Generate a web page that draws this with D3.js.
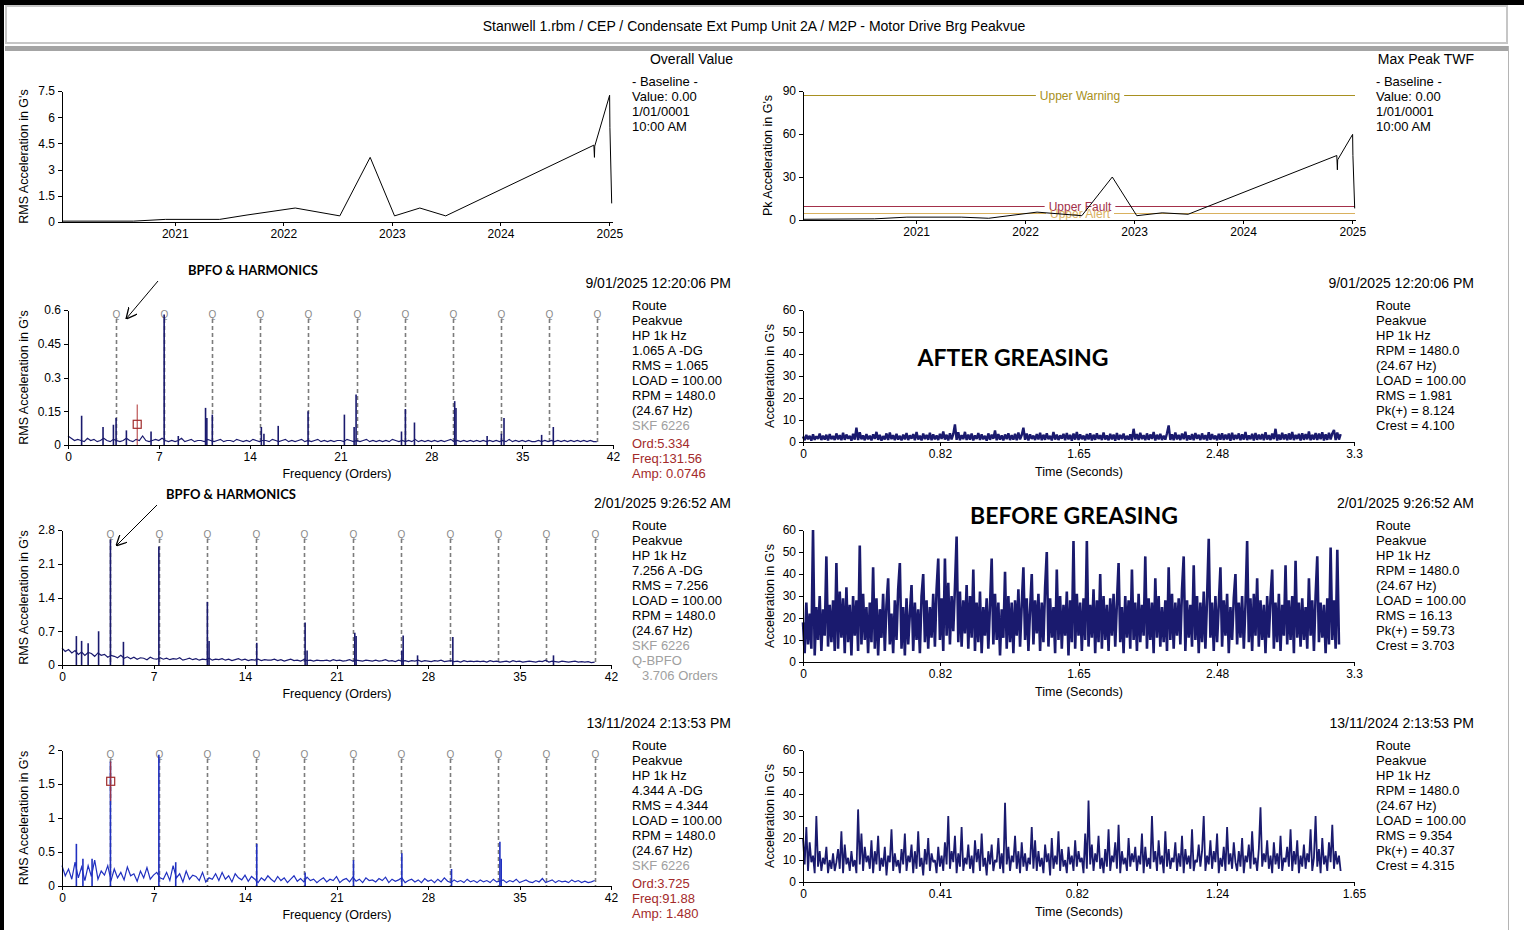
<!DOCTYPE html>
<html>
<head>
<meta charset="utf-8">
<script src="https://cdn.jsdelivr.net/npm/d3@7"></script>
<style>
body { margin: 0; background: #fff; }
svg { display: block; font-family: "Liberation Sans", Arial, sans-serif; }
.axis path, .axis line { stroke: #000; shape-rendering: crispEdges; }
.axis text { font-size: 12px; fill: #000; font-family: "Liberation Sans", Arial, sans-serif; }
</style>
</head>
<body>
<svg id="chart" width="1524" height="930"></svg>
<script>
// ---- trend data (overall value / max peak) ----
var trendDates = ["2019-12-20", "2020-08-15", "2020-12-01", "2021-06-01", "2021-09-01", "2022-02-10",
  "2022-07-10", "2022-10-20", "2023-01-10", "2023-04-05", "2023-07-01", "2024-11-10", "2024-11-12",
  "2024-11-13", "2025-01-02", "2025-01-03", "2025-01-09"];
var overallRms = [0.05, 0.05, 0.15, 0.15, 0.4, 0.8, 0.35, 3.7, 0.35, 0.8, 0.35, 4.4, 3.7, 4.344, 7.256, 5.4, 1.065];
var maxPeakTwf = [0.5, 0.8, 2, 2, 1.2, 5.5, 3, 30, 3, 5, 4, 45, 35, 42, 59.73, 45, 8.1];
var yearTicks = ["2021", "2022", "2023", "2024", "2025"];
var alarmNames = ["Upper Warning", "Upper Fault", "Upper Alert"];
var alarmLevels = [87, 10, 5];

// ---- spectra ----
var bpfo = 3.706;
var harmonicNumbers = [1, 2, 3, 4, 5, 6, 7, 8, 9, 10, 11];
var orderTicks = [0, 7, 14, 21, 28, 35, 42];
var noiseStep = 0.25; // orders between noise floor readings

var specAfterNoise = [
  .04,.03,.02,.025,.02,.015,.03,.02,.025,.015,.02,.03,.02,.015,.025,.02,
  .015,.02,.03,.02,.015,.025,.02,.04,.02,.015,.02,.025,.02,.03,.02,.015,
  .02,.015,.02,.03,.015,.02,.025,.015,.02,.02,.015,.025,.02,.015,.02,.025,
  .015,.02,.02,.015,.025,.02,.015,.02,.015,.025,.02,.015,.02,.02,.015,.025,
  .02,.015,.02,.025,.015,.02,.015,.02,.025,.015,.02,.015,.02,.025,.015,.02,
  .015,.02,.015,.02,.02,.015,.025,.02,.015,.02,.015,.02,.025,.015,.02,.015,
  .02,.015,.02,.015,.025,.02,.015,.02,.015,.02,.015,.025,.015,.02,.015,.02,
  .015,.02,.015,.02,.015,.02,.025,.015,.02,.015,.02,.015,.02,.015,.02,.015,
  .02,.015,.02,.015,.02,.015,.02,.015,.025,.015,.02,.015,.02,.015,.02,.015,
  .015,.02,.015,.02,.015,.02,.015,.02,.015,.02,.015,.02,.015,.02,.015,.02,
  .015,.02,.015,.015];
var specAfterPeakOrd = [1.05, 2.7, 3.5, 3.706, 4.5, 6.4, 7.41, 8.5, 10.6, 10.7, 11.12, 14.9, 15.1, 16.2,
  18.5, 21.3, 22.05, 22.2, 25.7, 26.0, 26.7, 29.8, 29.9, 32.3, 33.4, 33.6, 36.5, 37.4];
var specAfterPeakAmp = [.13, .08, .09, .12, .065, .06, .58, .04, .165, .12, .135, .08, .05, .085,
  .15, .135, .08, .225, .06, .16, .10, .195, .165, .04, .05, .12, .045, .08];

var specBeforeNoise = [
  .35,.28,.32,.25,.3,.22,.27,.2,.26,.24,.18,.25,.2,.22,.16,.2,
  .18,.15,.2,.14,.17,.13,.16,.12,.15,.14,.11,.16,.13,.12,.15,.12,
  .14,.11,.13,.12,.15,.1,.12,.14,.11,.13,.1,.12,.11,.14,.1,.12,
  .11,.13,.1,.12,.09,.11,.13,.1,.12,.09,.11,.1,.12,.09,.11,.1,
  .1,.12,.09,.11,.08,.1,.12,.09,.1,.08,.11,.09,.1,.08,.1,.09,
  .09,.1,.08,.11,.09,.1,.08,.09,.11,.08,.1,.09,.08,.1,.09,.08,
  .1,.08,.09,.11,.08,.09,.07,.1,.08,.09,.07,.09,.08,.1,.07,.09,
  .08,.07,.09,.08,.1,.07,.08,.09,.07,.08,.06,.09,.07,.08,.07,.08,
  .07,.08,.06,.09,.07,.08,.06,.07,.08,.06,.09,.07,.08,.06,.07,.08,
  .07,.06,.08,.07,.1,.06,.08,.07,.06,.08,.07,.06,.07,.08,.06,.07,
  .06,.07,.05,.06];
var specBeforePeakOrd = [1.1, 1.5, 2.0, 2.8, 3.706, 4.7, 7.41, 11.12, 11.25, 14.9, 18.6, 18.75, 22.4,
  22.5, 26.0, 26.1, 27.2, 29.9, 37.6];
var specBeforePeakAmp = [.6, .5, .45, .7, 2.6, .48, 2.46, 1.31, .5, .46, .88, .3, .67,
  .6, .3, .61, .2, .58, .2];

var specNovNoise = [
  .3,.15,.25,.1,.35,.12,.28,.08,.3,.14,.38,.1,.22,.16,.3,.08,
  .25,.12,.2,.09,.28,.15,.18,.07,.22,.12,.27,.1,.16,.2,.12,.1,
  .2,.08,.3,.12,.18,.06,.22,.1,.16,.14,.08,.2,.06,.12,.1,.18,
  .08,.2,.1,.15,.06,.18,.12,.09,.16,.07,.14,.1,.05,.12,.08,.15,
  .1,.06,.14,.08,.12,.05,.1,.15,.07,.11,.06,.13,.08,.1,.05,.09,
  .12,.06,.1,.08,.14,.05,.09,.11,.06,.13,.07,.1,.05,.12,.08,.09,
  .06,.11,.08,.13,.05,.1,.07,.09,.12,.05,.08,.1,.06,.09,.05,.11,
  .07,.09,.05,.1,.06,.12,.07,.05,.09,.06,.08,.05,.1,.06,.08,.05,
  .09,.06,.08,.05,.1,.06,.07,.09,.05,.08,.06,.1,.05,.07,.09,.06,
  .05,.08,.06,.11,.05,.07,.09,.05,.08,.06,.07,.05,.09,.06,.08,.05,
  .07,.05,.06,.08];
var specNovPeakOrd = [1.1, 1.6, 2.3, 3.706, 7.41, 8.7, 14.9, 18.6, 22.3, 26.0, 29.8, 33.5, 33.6];
var specNovPeakAmp = [.62, .4, .4, 1.83, 1.93, .35, .62, .2, .38, .48, .25, .65, .4];

// ---- time waveforms (G's) ----
var afterDt = 0.01, beforeDt = 0.01, novDt = 0.005; // seconds per sample
var waveAfter = [
  2.5,0.8,3.2,1.2,2.8,0.6,3.5,1.0,2.6,1.4,3.8,0.9,2.9,1.1,3.3,0.7,3.6,1.3,2.7,0.9,
  3.9,1.2,3.1,0.8,4.2,1.0,3.4,1.5,2.8,0.6,3.7,1.1,6.5,0.9,4.4,1.3,3.0,0.8,3.6,1.2,
  2.9,0.7,3.5,1.4,4.6,1.0,3.2,0.6,2.7,1.2,3.9,0.9,4.3,1.3,3.1,0.8,3.7,1.1,2.8,0.7,
  3.4,1.2,4.1,0.9,3.0,1.5,3.6,0.8,4.5,1.1,2.9,0.7,3.8,1.3,3.2,1.0,4.2,0.8,3.5,1.2,
  3.0,0.9,3.7,1.4,4.8,1.1,3.3,0.7,4.0,1.2,3.6,8.0,1.0,4.4,0.8,3.1,1.3,4.6,0.9,3.4,
  1.1,3.8,0.7,3.0,1.4,4.1,0.9,3.5,1.2,2.8,0.6,3.9,1.0,3.3,1.5,5.2,0.8,3.6,1.1,3.0,
  0.7,3.4,1.3,4.0,0.9,3.1,1.1,3.7,0.8,4.3,1.2,3.2,6.5,1.0,3.8,0.7,3.5,1.4,2.9,0.9,
  3.6,1.2,4.2,0.8,3.3,1.0,3.9,1.3,2.8,0.7,4.5,1.1,3.4,0.9,3.0,1.5,3.7,0.8,4.1,1.2,
  3.2,0.6,3.8,1.1,4.6,0.9,3.5,1.3,2.9,0.8,3.6,1.2,4.0,0.7,3.3,1.0,3.9,1.4,3.1,0.9,
  4.3,1.1,3.0,0.8,3.7,1.2,3.4,0.6,4.1,1.0,3.2,1.3,3.8,0.9,2.8,1.1,3.5,0.7,6.0,1.2,
  3.6,0.9,4.2,1.3,3.1,0.8,3.9,1.0,3.4,1.4,4.5,0.7,3.3,1.2,3.7,0.9,2.9,1.1,4.0,7.5,
  1.0,3.5,0.8,4.3,1.2,3.2,0.9,3.8,1.3,4.7,0.7,3.0,1.1,3.6,0.8,4.1,1.4,3.3,0.9,3.9,
  1.2,3.1,0.7,4.4,1.0,3.6,1.3,2.9,0.8,3.7,1.1,4.0,0.9,3.4,1.2,3.8,0.6,4.2,1.0,3.2,
  1.4,3.9,0.8,3.5,1.1,4.6,0.9,3.0,1.3,3.7,0.7,4.1,1.0,3.3,1.2,3.6,0.8,4.4,1.1,3.1,
  0.9,3.8,1.3,6.0,0.7,3.4,1.0,4.2,1.2,3.5,0.8,3.9,1.1,4.5,0.9,3.2,1.4,3.7,0.7,4.0,
  1.0,3.6,1.2,4.8,0.8,3.3,1.1,4.1,0.9,3.8,1.3,4.4,0.7,3.5,1.0,4.2,1.2,3.9,5.5,0.9,
  4.3,1.1,3.6];
var waveBefore = [
  18,4,27,8,22,6,60,3,25,10,30,5,24,12,48,7,26,9,28,5,
  45,6,32,11,29,4,34,9,26,3,30,12,28,5,53,8,31,10,25,4,
  27,9,43,6,29,3,24,11,31,5,26,38,8,22,4,28,10,33,45,6,
  25,3,29,8,22,35,5,27,10,24,4,30,40,9,28,6,25,11,31,7,
  33,47,10,29,5,47,12,36,8,30,14,34,57,9,32,7,28,13,35,6,
  30,11,42,5,27,9,32,4,25,12,29,6,26,47,8,31,10,27,3,24,
  11,41,6,30,9,27,4,28,12,33,7,26,43,10,29,5,24,40,8,28,
  13,31,5,27,9,34,50,7,29,11,25,4,42,10,30,6,26,12,32,3,
  28,9,55,6,31,12,27,5,29,10,55,7,26,11,33,4,28,9,40,6,
  30,10,26,5,29,12,31,7,27,45,9,25,4,30,11,28,6,42,10,27,
  5,31,9,26,12,48,6,29,10,27,4,38,11,30,7,25,9,28,5,43,
  10,31,6,27,12,29,8,33,48,5,28,11,26,7,44,10,30,4,27,9,
  32,6,29,56,11,27,5,30,9,26,43,7,28,12,31,4,25,10,29,40,
  8,27,11,30,6,26,55,9,29,5,31,12,38,7,28,10,26,4,30,11,
  29,42,6,27,9,31,5,26,12,44,8,28,10,30,4,46,11,27,7,29,
  10,25,6,38,12,28,5,30,48,9,27,11,26,4,29,8,52,10,28,6,
  51,8];
var waveNov = [
  20,8,25,5,18,9,12,4,30,7,14,5,11,8,16,4,10,6,13,5,
  9,15,6,23,4,17,8,11,5,14,7,10,4,33,8,22,5,16,9,12,
  6,19,4,14,8,21,5,11,7,16,3,12,9,24,5,13,7,10,4,15,
  8,22,5,12,9,17,4,14,6,23,7,11,3,15,8,20,5,13,9,10,
  4,16,7,12,5,18,8,30,6,14,9,21,4,13,7,25,5,11,8,17,
  6,12,4,19,9,15,5,22,7,11,3,14,8,17,5,10,9,20,6,13,
  4,36,8,16,5,12,9,21,6,14,4,18,7,13,5,11,8,25,6,19,
  5,14,7,11,4,17,9,13,3,20,6,12,8,23,5,15,7,10,4,16,
  8,12,5,19,7,14,9,11,4,22,6,37,8,17,5,13,9,21,6,11,
  4,15,7,24,5,12,9,18,6,26,4,14,8,11,5,20,7,13,9,16,
  5,12,8,22,4,16,7,11,6,30,9,14,5,19,8,12,4,23,7,15,
  6,11,9,18,5,13,7,21,4,15,8,12,6,24,5,10,9,17,7,14,
  30,5,12,8,19,6,14,9,22,4,11,7,16,5,25,8,13,6,18,9,
  5,14,7,20,4,12,9,17,6,23,8,11,5,15,34,7,13,9,19,6,
  12,4,18,8,13,6,21,5,11,9,16,7,24,5,14,8,19,4,12,7,
  17,6,13,9,24,5,11,30,7,15,4,20,8,12,5,18,9,26,6,14,
  8,12,5];

var svg = d3.select("#chart");
var parseDate = d3.timeParse("%Y-%m-%d");
var navy = "#1a1a6e";

// frame
svg.append("rect").attr("x", 0).attr("y", 0).attr("width", 1524).attr("height", 5).attr("fill", "#000");
svg.append("rect").attr("x", 0).attr("y", 0).attr("width", 4).attr("height", 930).attr("fill", "#000");
svg.append("rect").attr("x", 6).attr("y", 6).attr("width", 1501).attr("height", 37)
  .attr("fill", "#fff").attr("stroke", "#c6c6c6").attr("stroke-width", 2);
svg.append("rect").attr("x", 5).attr("y", 46).attr("width", 1504).attr("height", 5).attr("fill", "#a4a4a4");
svg.append("line").attr("x1", 1508.5).attr("x2", 1508.5).attr("y1", 46).attr("y2", 930)
  .attr("stroke", "#b4b4b4").attr("stroke-width", 1);
svg.append("text").attr("x", 754).attr("y", 26).attr("dy", "0.35em").attr("text-anchor", "middle")
  .style("font-size", "14px").text("Stanwell 1.rbm / CEP / Condensate Ext Pump Unit 2A / M2P - Motor Drive Brg Peakvue");

// arrow marker
svg.append("defs").append("marker").attr("id", "arr").attr("viewBox", "0 0 10 10")
  .attr("refX", 10).attr("refY", 5).attr("markerWidth", 11).attr("markerHeight", 11)
  .attr("markerUnits", "userSpaceOnUse").attr("orient", "auto")
  .append("path").attr("d", "M0,0 L10,5 L0,10").attr("fill", "none").attr("stroke", "#000").attr("stroke-width", 1.2);

function txt(x, y, s, opts) {
  opts = opts || {};
  return svg.append("text").attr("x", x).attr("y", y).attr("dy", "0.35em")
    .attr("text-anchor", opts.anchor || "start")
    .style("font-size", (opts.size || 13) + "px")
    .attr("fill", opts.color || "#000").text(s);
}

function yLabel(x, yMid, s) {
  svg.append("text").attr("transform", "translate(" + x + "," + yMid + ") rotate(-90)")
    .attr("text-anchor", "middle").attr("dy", "0.35em").style("font-size", "12.5px").text(s);
}

function info(x, y0, lines) {
  lines.forEach(function (l, i) {
    txt(x + (l.dx || 0), y0 + i * 15 + (l.shift || 0), l.t, { color: l.c });
  });
}

// ---- trend charts ----
var trendDomain = [parseDate("2019-12-19"), parseDate("2025-01-10")];

function trend(p) {
  var x = d3.scaleTime().domain(trendDomain).range([p.x0, p.x1]);
  var y = d3.scaleLinear().domain([0, p.yMax]).range([p.yBottom, p.yTop]);

  if (p.alarms) {
    var alarmColor = { "Upper Warning": "#a89020", "Upper Fault": "#a3304a", "Upper Alert": "#d9b15e" };
    var labelX = 1080;
    alarmNames.forEach(function (name, i) {
      var yy = Math.round(y(alarmLevels[i])) + 0.5;
      var t = svg.append("text").attr("x", labelX).attr("y", yy).attr("dy", "0.35em")
        .attr("text-anchor", "middle").style("font-size", "12px").attr("fill", alarmColor[name]).text(name);
      var w = t.node().getComputedTextLength();
      svg.append("line").attr("x1", p.x0).attr("x2", labelX - w / 2 - 4).attr("y1", yy).attr("y2", yy)
        .attr("stroke", alarmColor[name]).attr("stroke-width", 1);
      svg.append("line").attr("x1", labelX + w / 2 + 4).attr("x2", p.x1).attr("y1", yy).attr("y2", yy)
        .attr("stroke", alarmColor[name]).attr("stroke-width", 1);
    });
  }

  svg.append("g").attr("class", "axis").attr("transform", "translate(0," + p.yBottom + ")")
    .call(d3.axisBottom(x).tickValues(yearTicks.map(function (s) { return parseDate(s + "-01-01"); }))
      .tickFormat(d3.timeFormat("%Y")).tickSize(4).tickSizeOuter(0).tickPadding(3));
  svg.append("g").attr("class", "axis").attr("transform", "translate(" + p.x0 + ",0)")
    .call(d3.axisLeft(y).tickValues(p.yTicks).tickFormat(d3.format("~g")).tickSize(4).tickSizeOuter(0).tickPadding(3));

  var line = d3.line()
    .x(function (d, i) { return x(parseDate(trendDates[i])); })
    .y(function (d) { return y(d); });
  svg.append("path").datum(p.values).attr("d", line).attr("fill", "none")
    .attr("stroke", "#000").attr("stroke-width", 1);

  yLabel(p.labelX, (p.yTop + p.yBottom) / 2, p.yTitle);
  txt(p.titleX, 59, p.title, { anchor: "end", size: 14 });
  info(p.infoX, 81, [{ t: "- Baseline -" }, { t: "Value: 0.00" }, { t: "1/01/0001" }, { t: "10:00 AM" }]);
}

trend({ x0: 62, x1: 612, yTop: 91, yBottom: 222, yMax: 7.5, yTicks: [0, 1.5, 3, 4.5, 6, 7.5],
  values: overallRms, labelX: 24, yTitle: "RMS Acceleration in G's", title: "Overall Value", titleX: 733, infoX: 632 });
trend({ x0: 803, x1: 1355, yTop: 91, yBottom: 220, yMax: 90, yTicks: [0, 30, 60, 90],
  values: maxPeakTwf, labelX: 768, yTitle: "Pk Acceleration in G's", title: "Max Peak TWF", titleX: 1474, infoX: 1376, alarms: true });

// ---- spectra ----
function spectrum(p) {
  var x = d3.scaleLinear().domain([0, 42]).range([p.x0, p.x1]);
  var y = d3.scaleLinear().domain([0, p.yMax]).range([p.yBottom, p.yTop]);

  harmonicNumbers.forEach(function (k) {
    var xx = Math.round(x(k * bpfo)) + 0.5;
    svg.append("line").attr("x1", xx).attr("x2", xx).attr("y1", p.yTop + 9).attr("y2", p.yBottom)
      .attr("stroke", "#7c7c7c").attr("stroke-width", 1.6).attr("stroke-dasharray", "4,3");
    svg.append("text").attr("x", xx).attr("y", p.yTop + 4).attr("dy", "0.35em").attr("text-anchor", "middle")
      .style("font-size", "10px").attr("fill", "#8a8a8a").text("Q");
  });

  var line = d3.line().x(function (d, i) { return x(i * noiseStep); }).y(function (d) { return y(d); });
  svg.append("path").datum(p.noise).attr("d", line).attr("fill", "none")
    .attr("stroke", p.color).attr("stroke-width", 1.2);
  svg.append("g").selectAll("line").data(p.peakOrd).enter().append("line")
    .attr("x1", function (d) { return x(d); }).attr("x2", function (d) { return x(d); })
    .attr("y1", y(0)).attr("y2", function (d, i) { return y(p.peakAmp[i]); })
    .attr("stroke", p.color).attr("stroke-width", 1.6);

  if (p.cursor) {
    var c = p.cursor, cx = x(c.ord);
    svg.append("line").attr("x1", cx).attr("x2", cx).attr("y1", y(c.top)).attr("y2", y(c.bottom))
      .attr("stroke", "#b03434").attr("stroke-width", 1);
    svg.append("rect").attr("x", cx - 4).attr("y", y(c.mark) - 4).attr("width", 8).attr("height", 8)
      .attr("fill", "none").attr("stroke", "#a02c2c").attr("stroke-width", 1.2);
  }

  svg.append("g").attr("class", "axis").attr("transform", "translate(0," + p.yBottom + ")")
    .call(d3.axisBottom(x).tickValues(orderTicks).tickSize(4).tickSizeOuter(0).tickPadding(3));
  svg.append("g").attr("class", "axis").attr("transform", "translate(" + p.x0 + ",0)")
    .call(d3.axisLeft(y).tickValues(p.yTicks).tickFormat(d3.format("~g")).tickSize(4).tickSizeOuter(0).tickPadding(3));

  yLabel(24, (p.yTop + p.yBottom) / 2, "RMS Acceleration in G's");
  txt(337, p.yBottom + 29, "Frequency (Orders)", { anchor: "middle", size: 12.5 });
  txt(731, p.yTop - 27, p.date, { anchor: "end", size: 14 });
  info(632, p.yTop - 5, p.info);
}

var red = "#a32a2a", gray = "#a0a0a0";
spectrum({ x0: 68, x1: 613, yTop: 310, yBottom: 445, yMax: 0.6, yTicks: [0, .15, .3, .45, .6], color: navy,
  noise: specAfterNoise, peakOrd: specAfterPeakOrd, peakAmp: specAfterPeakAmp,
  cursor: { ord: 5.334, top: 0.18, bottom: 0, mark: 0.092 },
  date: "9/01/2025 12:20:06 PM",
  info: [{ t: "Route" }, { t: "Peakvue" }, { t: "HP 1k Hz" }, { t: "1.065 A -DG" }, { t: "RMS = 1.065" },
    { t: "LOAD = 100.00" }, { t: "RPM = 1480.0" }, { t: "(24.67 Hz)" }, { t: "SKF 6226", c: gray },
    { t: "Ord:5.334", c: red, shift: 3 }, { t: "Freq:131.56", c: red, shift: 3 }, { t: "Amp: 0.0746", c: red, shift: 3 }] });
spectrum({ x0: 62, x1: 611, yTop: 530, yBottom: 665, yMax: 2.8, yTicks: [0, .7, 1.4, 2.1, 2.8], color: navy,
  noise: specBeforeNoise, peakOrd: specBeforePeakOrd, peakAmp: specBeforePeakAmp,
  date: "2/01/2025 9:26:52 AM",
  info: [{ t: "Route" }, { t: "Peakvue" }, { t: "HP 1k Hz" }, { t: "7.256 A -DG" }, { t: "RMS = 7.256" },
    { t: "LOAD = 100.00" }, { t: "RPM = 1480.0" }, { t: "(24.67 Hz)" }, { t: "SKF 6226", c: gray },
    { t: "Q-BPFO", c: gray }, { t: "3.706 Orders", c: gray, dx: 10 }] });
spectrum({ x0: 62, x1: 611, yTop: 750, yBottom: 886, yMax: 2, yTicks: [0, .5, 1, 1.5, 2], color: "#2030c0",
  noise: specNovNoise, peakOrd: specNovPeakOrd, peakAmp: specNovPeakAmp,
  cursor: { ord: 3.725, top: 1.83, bottom: 1.25, mark: 1.54 },
  date: "13/11/2024 2:13:53 PM",
  info: [{ t: "Route" }, { t: "Peakvue" }, { t: "HP 1k Hz" }, { t: "4.344 A -DG" }, { t: "RMS = 4.344" },
    { t: "LOAD = 100.00" }, { t: "RPM = 1480.0" }, { t: "(24.67 Hz)" }, { t: "SKF 6226", c: gray },
    { t: "Ord:3.725", c: red, shift: 3 }, { t: "Freq:91.88", c: red, shift: 3 }, { t: "Amp: 1.480", c: red, shift: 3 }] });

// ---- waveforms ----
function waveform(p) {
  var x = d3.scaleLinear().domain([0, p.xMax]).range([803, 1354]);
  var y = d3.scaleLinear().domain([0, 60]).range([p.yBottom, p.yTop]);

  var line = d3.line().x(function (d, i) { return x(i * p.dt); }).y(function (d) { return y(d); });
  svg.append("path").datum(p.values).attr("d", line).attr("fill", "none")
    .attr("stroke", navy).attr("stroke-width", p.sw).attr("stroke-linejoin", "bevel");

  svg.append("g").attr("class", "axis").attr("transform", "translate(0," + p.yBottom + ")")
    .call(d3.axisBottom(x).tickValues(p.xTicks).tickFormat(d3.format("~g")).tickSize(4).tickSizeOuter(0).tickPadding(3));
  svg.append("g").attr("class", "axis").attr("transform", "translate(803,0)")
    .call(d3.axisLeft(y).tickValues([0, 10, 20, 30, 40, 50, 60]).tickSize(4).tickSizeOuter(0).tickPadding(3));

  yLabel(770, (p.yTop + p.yBottom) / 2, "Acceleration in G's");
  txt(1079, p.yBottom + 30, "Time (Seconds)", { anchor: "middle", size: 12.5 });
  txt(1474, p.yTop - 27, p.date, { anchor: "end", size: 14 });
  info(1376, p.yTop - 5, [{ t: "Route" }, { t: "Peakvue" }, { t: "HP 1k Hz" }, { t: "RPM = 1480.0" },
    { t: "(24.67 Hz)" }, { t: "LOAD = 100.00" }, { t: "RMS = " + p.rms }, { t: "Pk(+) = " + p.pk }, { t: "Crest = " + p.crest }]);
}

waveform({ yTop: 310, yBottom: 442, xMax: 3.3, xTicks: [0, .82, 1.65, 2.48, 3.3], values: waveAfter, dt: afterDt, sw: 2.4,
  date: "9/01/2025 12:20:06 PM", rms: "1.981", pk: "8.124", crest: "4.100" });
waveform({ yTop: 530, yBottom: 662, xMax: 3.3, xTicks: [0, .82, 1.65, 2.48, 3.3], values: waveBefore, dt: beforeDt, sw: 2.6,
  date: "2/01/2025 9:26:52 AM", rms: "16.13", pk: "59.73", crest: "3.703" });
waveform({ yTop: 750, yBottom: 882, xMax: 1.65, xTicks: [0, .41, .82, 1.24, 1.65], values: waveNov, dt: novDt, sw: 1.8,
  date: "13/11/2024 2:13:53 PM", rms: "9.354", pk: "40.37", crest: "4.315" });

// ---- annotations ----
function bold(x, y, s, size) {
  svg.append("text").attr("x", x).attr("y", y).attr("dy", "0.35em").attr("text-anchor", "middle")
    .style("font-family", "Lato, 'Open Sans', sans-serif").style("font-weight", "bold")
    .style("font-size", size + "px").text(s);
}
bold(253, 270, "BPFO & HARMONICS", 13);
bold(231, 494, "BPFO & HARMONICS", 13);
svg.append("line").attr("x1", 158).attr("y1", 281).attr("x2", 126).attr("y2", 319)
  .attr("stroke", "#000").attr("stroke-width", 1).attr("marker-end", "url(#arr)");
svg.append("line").attr("x1", 157).attr("y1", 505).attr("x2", 116).attr("y2", 546)
  .attr("stroke", "#000").attr("stroke-width", 1).attr("marker-end", "url(#arr)");
bold(1013, 358, "AFTER GREASING", 23);
bold(1074, 516, "BEFORE GREASING", 23);
</script>
</body>
</html>
